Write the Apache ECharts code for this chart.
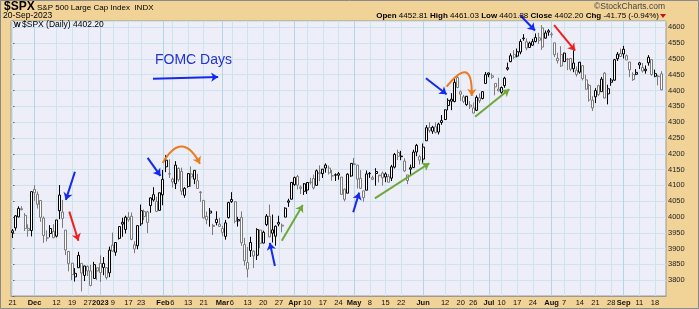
<!DOCTYPE html>
<html><head><meta charset="utf-8">
<script src="https://cdn.jsdelivr.net/npm/echarts@6/dist/echarts.min.js"></script>
<style>html,body{margin:0;padding:0;background:#F1D398;overflow:hidden}#c{width:699px;height:309px}</style>
</head><body><div id="c"></div>
<script>
// trading days per month
const monthDays = [
 [2022,11,[21,22,23,25,28,29,30]],
 [2022,12,[1,2,5,6,7,8,9,12,13,14,15,16,19,20,21,22,23,27,28,29,30]],
 [2023,1,[3,4,5,6,9,10,11,12,13,17,18,19,20,23,24,25,26,27,30,31]],
 [2023,2,[1,2,3,6,7,8,9,10,13,14,15,16,17,21,22,23,24,27,28]],
 [2023,3,[1,2,3,6,7,8,9,10,13,14,15,16,17,20,21,22,23,24,27,28,29,30,31]],
 [2023,4,[3,4,5,6,10,11,12,13,14,17,18,19,20,21,24,25,26,27,28]],
 [2023,5,[1,2,3,4,5,8,9,10,11,12,15,16,17,18,19,22,23,24,25,26,30,31]],
 [2023,6,[1,2,5,6,7,8,9,12,13,14,15,16,20,21,22,23,26,27,28,29,30]],
 [2023,7,[3,5,6,7,10,11,12,13,14,17,18,19,20,21,24,25,26,27,28,31]],
 [2023,8,[1,2,3,4,7,8,9,10,11,14,15,16,17,18,21,22,23,24,25,28,29,30,31]],
 [2023,9,[1,5,6,7,8,11,12,13,14,15,18,19,20]]
];
const opens = [
 3956.23,3965.51,4000.30,4023.34,4005.36,3964.07,3957.18,
 4087.14,4040.17,4052.02,3996.63,3933.28,3947.79,3954.17,3939.29,4069.38,4015.54,3958.37,3890.91,3853.79,3810.47,3839.49,3853.26,3815.11,3843.34,3829.56,3805.45,3829.06,
 3853.29,3840.36,3839.74,3823.37,3910.82,3888.57,3932.35,3977.57,3960.60,3999.28,4002.25,3911.84,3909.04,3978.14,4001.74,3982.71,4036.08,4053.72,4049.27,4020.85,
 4070.07,4158.68,4136.69,4119.57,4105.35,4153.47,4144.25,4068.92,4096.62,4126.70,4119.50,4114.75,4077.39,4052.35,4001.83,4018.60,3973.24,3992.36,3977.19,
 3963.34,3938.68,3998.02,4055.15,4048.26,3987.55,3998.66,3912.77,3835.12,3894.01,3876.74,3878.93,3958.69,3917.47,3975.89,4002.04,3959.21,3939.21,3982.93,3974.13,3999.53,4046.74,4056.18,
 4102.20,4128.03,4094.50,4081.15,4085.20,4110.29,4121.72,4100.04,4140.11,4137.17,4164.26,4139.33,4130.48,4132.14,4132.07,4126.43,4087.78,4075.29,4129.63,
 4166.79,4164.10,4122.25,4082.61,4084.73,4136.98,4124.25,4143.74,4132.24,4138.54,4126.65,4127.95,4122.85,4157.68,4204.15,4190.78,4176.80,4132.96,4155.71,4156.16,4226.71,4190.74,
 4183.03,4241.01,4282.99,4271.34,4285.47,4268.69,4304.88,4308.32,4352.61,4366.29,4365.33,4440.95,4396.11,4380.01,4355.40,4354.17,4344.84,4337.36,4367.48,4374.94,4422.44,
 4450.48,4442.04,4422.62,4404.54,4394.23,4415.55,4467.69,4491.50,4514.61,4508.86,4521.78,4563.87,4554.38,4550.16,4543.39,4555.19,4558.96,4598.26,4565.75,4584.82,
 4578.83,4550.93,4494.27,4513.96,4491.58,4498.03,4501.57,4487.16,4450.69,4458.13,4478.87,4433.79,4416.32,4344.88,4380.28,4415.33,4396.44,4455.16,4389.38,4426.03,4432.75,4500.34,4517.01,
 4530.60,4510.06,4490.35,4434.55,4451.30,4480.98,4473.27,4462.65,4487.78,4497.98,4445.13,4445.41,4452.81
];
const highs = [
 3962.00,4005.88,4033.78,4034.02,4012.27,3976.77,4080.11,
 4100.51,4080.48,4052.45,4001.51,3957.57,3974.19,3977.02,3990.71,4100.96,4053.76,3958.37,3890.91,3854.86,3838.24,3889.82,3853.26,3845.80,3846.65,3848.32,3858.19,3839.85,
 3878.46,3873.16,3839.74,3906.19,3950.57,3919.83,3970.07,3997.76,4003.95,4015.39,4014.16,3922.94,3972.96,4039.31,4023.92,4019.55,4061.57,4094.21,4063.85,4077.16,
 4148.95,4195.44,4182.36,4124.63,4176.54,4156.85,4156.23,4094.36,4138.90,4159.77,4148.11,4136.54,4081.51,4052.35,4017.37,4028.30,3978.25,4018.05,3997.50,
 3971.73,3990.84,4048.29,4078.49,4050.00,4000.41,4017.81,3934.05,3905.05,3937.29,3894.26,3964.46,3958.91,3956.62,4009.08,4039.49,4007.66,3972.74,4003.83,3979.20,4030.59,4057.85,4110.75,
 4127.66,4133.13,4099.69,4107.32,4109.50,4124.26,4134.37,4150.26,4163.19,4151.72,4169.48,4162.57,4148.57,4138.02,4142.41,4126.43,4089.67,4138.24,4170.06,
 4186.92,4164.10,4148.30,4082.61,4147.02,4142.30,4130.35,4154.28,4132.80,4143.74,4141.25,4135.54,4164.67,4202.20,4212.91,4209.22,4185.68,4132.96,4165.74,4212.87,4231.10,4195.44,
 4232.43,4290.67,4299.28,4288.33,4299.19,4298.01,4322.62,4340.13,4375.37,4391.82,4439.20,4448.47,4400.15,4386.22,4382.25,4366.55,4362.06,4384.42,4390.35,4398.39,4458.48,
 4456.46,4454.06,4422.62,4440.39,4412.60,4443.64,4488.34,4517.38,4527.76,4532.85,4562.30,4578.43,4564.74,4555.00,4563.41,4580.62,4582.47,4607.07,4590.16,4594.22,
 4584.62,4550.93,4519.49,4540.34,4519.84,4503.31,4502.44,4527.37,4476.23,4490.33,4478.87,4449.95,4421.17,4381.82,4407.55,4418.59,4443.18,4458.30,4418.46,4439.56,4500.14,4521.65,4532.26,
 4541.25,4514.29,4490.35,4457.81,4467.89,4490.77,4487.11,4479.39,4511.99,4497.98,4466.36,4449.85,4461.03
];
const lows = [
 3933.34,3956.88,3998.66,4020.76,3955.77,3937.65,3938.58,
 4050.87,4026.63,3984.49,3918.39,3922.68,3935.83,3933.04,3935.30,3993.03,3965.65,3879.45,3827.91,3800.04,3795.62,3839.49,3764.49,3797.01,3813.22,3780.78,3805.45,3800.34,
 3794.33,3815.77,3802.42,3809.56,3890.42,3877.29,3928.54,3937.56,3947.67,3984.57,3926.59,3885.54,3897.86,3971.64,3989.79,3949.06,4013.29,4048.70,4015.55,4020.44,
 4037.20,4141.88,4123.36,4093.38,4088.39,4111.67,4069.67,4060.79,4092.67,4095.01,4103.98,4089.89,4047.95,3995.19,3976.90,3969.19,3943.08,3973.55,3968.98,
 3939.05,3928.16,3995.17,4044.61,3980.31,3969.76,3908.70,3846.32,3808.86,3873.63,3838.24,3864.11,3901.27,3916.89,3971.19,3936.17,3919.05,3909.16,3970.49,3951.53,3999.53,4032.10,4056.18,
 4098.79,4086.87,4072.56,4069.84,4072.55,4102.61,4086.94,4099.40,4113.20,4123.18,4140.36,4134.49,4114.57,4113.86,4117.77,4071.38,4049.35,4075.29,4127.18,
 4164.12,4089.72,4088.86,4048.28,4084.73,4123.81,4116.65,4098.92,4109.29,4099.12,4110.27,4109.86,4113.62,4153.50,4180.20,4179.68,4142.54,4103.98,4129.73,4156.16,4192.18,4166.15,
 4171.64,4241.01,4266.82,4263.09,4263.96,4261.07,4291.70,4307.18,4337.54,4337.85,4362.60,4407.44,4367.19,4360.14,4351.82,4341.34,4328.08,4335.00,4360.22,4371.97,4422.44,
 4442.29,4436.61,4385.05,4397.40,4389.92,4408.46,4463.23,4489.36,4499.56,4504.90,4514.59,4557.48,4527.56,4535.79,4541.29,4552.42,4547.58,4528.56,4564.01,4573.14,
 4567.53,4505.75,4485.54,4474.55,4491.15,4464.39,4461.33,4457.92,4443.98,4453.44,4432.19,4403.55,4364.83,4335.31,4360.30,4382.77,4396.44,4375.55,4356.29,4414.98,4431.68,4493.59,4507.39,
 4501.35,4496.01,4442.38,4430.46,4448.66,4467.89,4456.83,4453.52,4478.69,4447.21,4442.11,4416.61,4401.38
];
const closes = [
 3949.94,4003.58,4027.26,4026.12,3963.94,3957.63,4080.11,
 4076.57,4071.70,3998.84,3941.26,3933.92,3963.51,3934.38,3990.56,4019.65,3995.32,3895.75,3852.36,3817.66,3821.62,3878.44,3822.39,3844.82,3829.25,3783.22,3849.28,3839.50,
 3824.14,3852.97,3808.10,3895.08,3892.09,3919.25,3969.61,3983.17,3999.09,3990.97,3928.86,3898.85,3972.61,4019.81,4016.95,4016.22,4060.43,4070.56,4017.77,4076.60,
 4119.21,4179.76,4136.48,4111.08,4164.00,4117.86,4081.50,4090.46,4137.29,4136.13,4147.60,4090.41,4079.09,3997.34,3991.05,4012.32,3970.04,3982.24,3970.15,
 3951.39,3981.35,4045.64,4048.42,3986.37,3992.01,3918.32,3861.59,3855.76,3919.29,3891.93,3960.28,3916.64,3951.57,4002.87,3936.97,3948.72,3970.99,3977.53,3971.27,4027.81,4050.83,4109.31,
 4124.51,4100.60,4090.38,4105.02,4109.11,4108.94,4091.95,4146.22,4137.64,4151.32,4154.87,4154.52,4129.79,4133.52,4137.04,4071.63,4055.99,4135.35,4169.48,
 4167.87,4119.58,4090.75,4061.22,4136.25,4138.12,4119.17,4137.64,4130.62,4124.08,4136.28,4109.90,4158.77,4198.05,4191.98,4192.63,4145.58,4115.24,4151.28,4205.45,4205.52,4179.83,
 4221.02,4282.37,4273.79,4283.85,4267.52,4293.93,4298.86,4338.93,4369.01,4372.59,4425.84,4409.59,4388.71,4365.69,4381.89,4348.33,4328.82,4378.41,4376.86,4396.44,4450.38,
 4455.59,4446.82,4411.59,4398.95,4409.53,4439.26,4472.16,4510.04,4505.42,4522.79,4554.98,4565.72,4534.87,4536.34,4554.64,4567.46,4566.75,4537.41,4582.23,4588.96,
 4576.73,4513.39,4501.89,4478.03,4518.44,4499.38,4467.71,4468.83,4464.05,4489.72,4437.86,4404.33,4370.36,4369.71,4399.77,4387.55,4436.01,4376.31,4405.71,4433.31,4497.63,4514.87,4507.66,
 4515.77,4496.83,4465.48,4451.14,4457.49,4487.46,4461.90,4467.44,4505.10,4450.32,4453.53,4443.95,4402.20
];
const tickDates = ['2022-11-21','2022-12-01','2022-12-12','2022-12-19','2022-12-27','2023-01-03','2023-01-09','2023-01-17','2023-01-23','2023-02-01','2023-02-06','2023-02-13','2023-02-21','2023-03-01','2023-03-06','2023-03-13','2023-03-20','2023-03-27','2023-04-03','2023-04-10','2023-04-17','2023-04-24','2023-05-01','2023-05-08','2023-05-15','2023-05-22','2023-06-01','2023-06-12','2023-06-20','2023-06-26','2023-07-03','2023-07-10','2023-07-17','2023-07-24','2023-08-01','2023-08-07','2023-08-14','2023-08-21','2023-08-28','2023-09-01','2023-09-11','2023-09-18'];
const tickLabels = ['21','Dec','12','19','27','2023','9','17','23','Feb','6','13','21','Mar','6','13','20','27','Apr','10','17','24','May','8','15','22','Jun','12','20','26','Jul','10','17','24','Aug','7','14','21','28','Sep','11','18'];
// annotation arrows in data space: [index1, value1, index2, value2]
const blueArrows = [[19.9,4143,17.0,4054],[43.1,4187,47.2,4130],[83.7,3845,82.1,3918],[108.7,4015,110.6,4077],[131.9,4439,138.5,4388],[161.9,4639,166.7,4590],[44.8,4437,65.6,4443]];
const redArrows = [[18.1,4017,21.0,3925],[172.8,4607,179.5,4526]];
const greenArrows = [[85.9,3925,92.6,4038],[115.6,4059,133.0,4170],[147.6,4317,158.5,4404]];
const orangeArcs = [[47.9,4171,59.8,4168],[138.5,4412,146.5,4383]];
const orangeBend = [0.9, 1.5];

const dates = [];
monthDays.forEach(([y,m,ds]) => ds.forEach(d => dates.push(y+'-'+String(m).padStart(2,'0')+'-'+String(d).padStart(2,'0'))));
const categories = dates.concat(['']);
const tickMap = new Map();
tickDates.forEach((d,k) => tickMap.set(dates.indexOf(d), tickLabels[k]));
const isBold = t => isNaN(+t) || t.length === 4;

const BLACK = '#000000', GRAY = '#7a7a7a';
const candleData = dates.map((d,i) => {
  const up = i === 0 || closes[i] >= closes[i-1];
  const col = up ? BLACK : GRAY;
  return {value:[opens[i], closes[i], lows[i], highs[i]],
    itemStyle:{color:'#ffffff', color0:col, borderColor:col, borderColor0:col, borderColorDoji:col}};
});

const gridLineData = [];
tickMap.forEach((t,i) => gridLineData.push({coords:[[i,3750],[i,4620]],
  lineStyle:{color: isBold(t) ? '#b2d5e7' : '#cde4ef'}}));

const arrowData = [];
const addArrows = (arr, color) => arr.forEach(a => arrowData.push({coords:[[a[0],a[1]],[a[2],a[3]]], lineStyle:{color}}));
addArrows(blueArrows, '#1428f0');
addArrows(redArrows, '#f02020');
addArrows(greenArrows, '#6fa83a');
orangeArcs.forEach((a,k) => arrowData.push({coords:[[a[0],a[1]],[a[2],a[3]]], lineStyle:{color:'#ee7a1e', curveness:orangeBend[k]}}));

const FONT = 'Liberation Sans, Arial, sans-serif';
const chart = echarts.init(document.getElementById('c'), null, {renderer:'canvas'});
chart.setOption({
  animation:false,
  backgroundColor:'#F1D398',
  textStyle:{fontFamily:FONT},
  grid:{left:11, right:33, top:21, bottom:13, show:true, backgroundColor:'#EDEEF7', borderColor:'#9a9a9a', borderWidth:1},
  xAxis:[{
    type:'category', data:categories, boundaryGap:true,
    axisLine:{show:true, lineStyle:{color:'#9a9a9a'}},
    axisTick:{show:false}, splitLine:{show:false},
    axisLabel:{
      interval:(i) => tickMap.has(i),
      formatter:(v,i) => { const t = tickMap.get(i); if (t === undefined) return ''; return isBold(t) ? '{b|'+t+'}' : t; },
      fontSize:7.5, color:'#111', margin:3, fontFamily:FONT,
      rich:{b:{fontWeight:'bold', fontSize:7.5, color:'#111', fontFamily:FONT}}
    }
  },{
    type:'value', min:-0.5, max:208.5, show:false
  }],
  yAxis:{
    type:'value', position:'right', min:3750, max:4620, interval:50,
    axisLine:{show:true, lineStyle:{color:'#555', type:'dotted'}},
    axisTick:{show:true, length:2, lineStyle:{color:'#666'}},
    axisLabel:{fontSize:7.5, color:'#222', margin:2, fontFamily:FONT,
      formatter:v => (v === 3750 || v % 50 !== 0) ? '' : String(v)},
    splitLine:{show:true, lineStyle:{color:'#cde4ef', width:1}}
  },
  series:[
    {type:'lines', coordinateSystem:'cartesian2d', xAxisIndex:1, yAxisIndex:0, z:1, silent:true,
     symbol:'none', lineStyle:{width:1, opacity:1, curveness:0}, data:gridLineData},
    {type:'candlestick', xAxisIndex:0, yAxisIndex:0, z:3, barWidth:2.5, silent:true,
     itemStyle:{borderWidth:1}, data:candleData},
    {type:'lines', coordinateSystem:'cartesian2d', xAxisIndex:1, yAxisIndex:0, z:5, silent:true, clip:false,
     symbol:['none','arrow'], symbolSize:7, lineStyle:{width:2, opacity:1, curveness:0}, data:arrowData}
  ],
  graphic:[
    {type:'rect', silent:true, z:100, shape:{x:0.5, y:0.5, width:698, height:308}, style:{fill:null, stroke:'#8a8a8a', lineWidth:1}},
    {type:'text', silent:true, z:100, x:4, y:7, style:{text:'$SPX', font:'bold 12px '+FONT, fill:'#000', verticalAlign:'middle', textVerticalAlign:'middle'}},
    {type:'text', silent:true, z:100, x:37, y:7.5, style:{text:'S&P 500 Large Cap Index  INDX', font:'8px '+FONT, fill:'#000', verticalAlign:'middle', textVerticalAlign:'middle'}},
    {type:'text', silent:true, z:100, x:3, y:15.5, style:{text:'20-Sep-2023', font:'8.5px '+FONT, fill:'#000', verticalAlign:'middle', textVerticalAlign:'middle'}},
    {type:'text', silent:true, z:100, x:665, y:6.5, style:{text:'\u00A9StockCharts.com', font:'8.5px '+FONT, fill:'#444', align:'right', textAlign:'right', verticalAlign:'middle', textVerticalAlign:'middle'}},
    {type:'text', silent:true, z:100, x:659, y:15.5, style:{
      text:'{b|Open} 4452.81 {b|High} 4461.03 {b|Low} 4401.38 {b|Close} 4402.20 {b|Chg} -41.75 (-0.94%)',
      rich:{b:{fontWeight:'bold', fontSize:8, fontFamily:FONT, fill:'#000'}},
      font:'8px '+FONT, fill:'#000', align:'right', textAlign:'right', verticalAlign:'middle', textVerticalAlign:'middle'}},
    {type:'polygon', silent:true, z:100, shape:{points:[[660,14],[666,14],[663,18]]}, style:{fill:'#cc1111'}},
    {type:'text', silent:true, z:100, x:14, y:25, style:{text:'W', font:'bold 7px '+FONT, fill:'#000', verticalAlign:'middle', textVerticalAlign:'middle'}},
    {type:'text', silent:true, z:100, x:22, y:25, style:{text:'$SPX (Daily) 4402.20', font:'8.5px '+FONT, fill:'#000', verticalAlign:'middle', textVerticalAlign:'middle'}},
    {type:'text', silent:true, z:100, x:155, y:60, style:{text:'FOMC Days', font:'14px '+FONT, fill:'#2233d0', verticalAlign:'middle', textVerticalAlign:'middle'}}
  ]
});
</script></body></html>
